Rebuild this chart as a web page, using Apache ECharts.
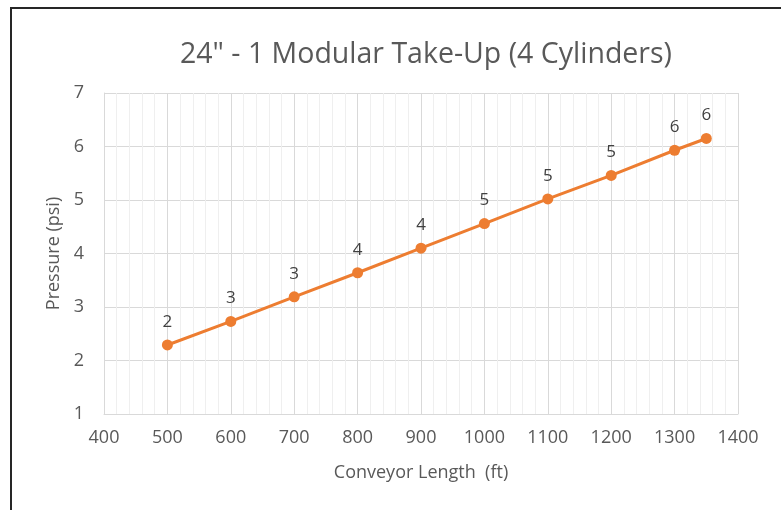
<!DOCTYPE html>
<html>
<head>
<meta charset="utf-8">
<script src="https://cdn.jsdelivr.net/npm/echarts@6/dist/echarts.min.js"></script>
<style>
  html, body { margin: 0; padding: 0; background: #fff; }
  #chart { width: 781px; height: 510px; }
</style>
</head>
<body>
<div id="chart"></div>
<script>
// Conveyor length (ft) and required pressure (psi)
const lengths = [500, 600, 700, 800, 900, 1000, 1100, 1200, 1300, 1350];
const pressures = [2.29, 2.73, 3.19, 3.64, 4.10, 4.56, 5.02, 5.46, 5.93, 6.15];

const chartTitle = '24" - 1 Modular Take-Up (4 Cylinders)';
const xName = 'Conveyor Length  (ft)';
const yName = 'Pressure (psi)';

const FONT = '"Open Sans", "Noto Sans", sans-serif';
const chart = echarts.init(document.getElementById('chart'), null, { renderer: 'canvas' });

chart.setOption({
  backgroundColor: '#ffffff',
  animation: false,
  title: {
    text: chartTitle,
    left: 175,
    top: 35,
    textStyle: { fontFamily: FONT, fontSize: 28.5, fontWeight: 'normal', color: '#595959' }
  },
  graphic: [{
    type: 'rect',
    shape: { x: 11, y: 8, width: 800, height: 520 },
    style: { fill: 'none', stroke: '#262626', lineWidth: 2 },
    silent: true
  }],
  grid: { left: 104, right: 43, top: 93, bottom: 96 },
  xAxis: {
    type: 'value',
    min: 400, max: 1400, interval: 100,
    name: xName,
    nameLocation: 'middle',
    nameGap: 50,
    nameTextStyle: { fontFamily: FONT, fontSize: 18, color: '#595959' },
    axisLine: { show: true, lineStyle: { color: '#d9d9d9', width: 1 } },
    axisTick: { show: false },
    axisLabel: {
      fontFamily: FONT, fontSize: 18, color: '#595959', margin: 15,
      formatter: v => String(v)
    },
    splitLine: { show: true, lineStyle: { color: '#d9d9d9', width: 1 } },
    minorTick: { show: false, splitNumber: 5 },
    minorSplitLine: { show: true, lineStyle: { color: '#efefef', width: 1 } }
  },
  yAxis: {
    type: 'value',
    min: 1, max: 7, interval: 1,
    name: yName,
    nameLocation: 'middle',
    nameGap: 38,
    nameTextStyle: { fontFamily: FONT, fontSize: 18, color: '#595959' },
    axisLine: { show: true, lineStyle: { color: '#d9d9d9', width: 1 } },
    axisTick: { show: false },
    axisLabel: { fontFamily: FONT, fontSize: 18, color: '#595959', margin: 20 },
    splitLine: { show: true, lineStyle: { color: '#d9d9d9', width: 1 } }
  },
  series: [{
    type: 'line',
    data: lengths.map((x, i) => [x, pressures[i]]),
    symbol: 'circle',
    symbolSize: 11,
    lineStyle: { color: '#ED7D31', width: 3 },
    itemStyle: { color: '#ED7D31' },
    label: {
      show: true,
      position: 'top',
      distance: 9,
      fontFamily: FONT,
      fontSize: 17,
      color: '#404040',
      formatter: p => Math.round(p.value[1]).toString()
    }
  }]
});
</script>
</body>
</html>
